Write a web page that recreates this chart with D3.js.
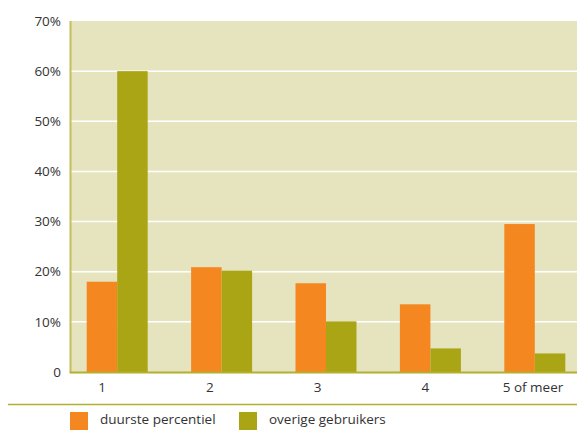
<!DOCTYPE html>
<html>
<head>
<meta charset="utf-8">
<script src="https://cdn.jsdelivr.net/npm/d3@7"></script>
<style>
  html, body { margin: 0; padding: 0; background: #fff; }
  svg { display: block; }
  text { font-family: "Open Sans", "Noto Sans", sans-serif; fill: #333; }
</style>
</head>
<body>
<svg id="chart" width="577" height="430"></svg>
<script>
const categories = ["1", "2", "3", "4", "5 of meer"];
const seriesNames = ["duurste percentiel", "overige gebruikers"];
const duurstePercentiel = [18.0, 20.9, 17.7, 13.5, 29.5];
const overigeGebruikers = [60.0, 20.2, 10.1, 4.7, 3.7];
const yTicks = [0, 10, 20, 30, 40, 50, 60, 70];
const yTickLabels = ["0", "10%", "20%", "30%", "40%", "50%", "60%", "70%"];
const colors = ["#f58720", "#aaa514"];

const svg = d3.select("#chart");
const W = 577;
const plotLeft = 70, plotRight = 577, plotTop = 21, plotBottom = 372;

const y = d3.scaleLinear().domain([0, 70]).range([plotBottom, plotTop]);
const x0 = d3.scaleBand().domain(categories).range([65, 587]).paddingInner(0.4157).paddingOuter(0.2078);
const x1 = d3.scaleBand().domain(seriesNames).range([0, x0.bandwidth()]);
const xLabel = d3.scalePoint().domain(categories).range([102, 533]);
const color = d3.scaleOrdinal().domain(seriesNames).range(colors);

// background
svg.append("rect")
  .attr("x", plotLeft).attr("y", y(70))
  .attr("width", plotRight - plotLeft).attr("height", y(0) - y(70))
  .attr("fill", "#e6e3bf");

// gridlines
svg.append("g").selectAll("line")
  .data(yTicks.filter(d => d > 0 && d < 70))
  .join("line")
  .attr("x1", plotLeft).attr("x2", plotRight)
  .attr("y1", d => y(d)).attr("y2", d => y(d))
  .attr("stroke", "#ffffff").attr("stroke-width", 1.5);

// bars
const data = categories.map((c, i) => ({ cat: c, values: [duurstePercentiel[i], overigeGebruikers[i]] }));
svg.append("g").selectAll("g")
  .data(data)
  .join("g")
  .attr("transform", d => `translate(${x0(d.cat)},0)`)
  .selectAll("rect")
  .data(d => d.values.map((v, j) => ({ s: seriesNames[j], v })))
  .join("rect")
  .attr("x", d => x1(d.s))
  .attr("width", x1.bandwidth())
  .attr("y", d => y(d.v))
  .attr("height", d => y(0) - y(d.v))
  .attr("fill", d => color(d.s));

// left axis line
svg.append("line")
  .attr("x1", plotLeft + 0.5).attr("x2", plotLeft + 0.5)
  .attr("y1", y(70)).attr("y2", y(0))
  .attr("stroke", "#c3c05a").attr("stroke-width", 2);

// bottom axis line
svg.append("line")
  .attr("x1", plotLeft - 0.5).attr("x2", plotRight)
  .attr("y1", y(0) + 0.5).attr("y2", y(0) + 0.5)
  .attr("stroke", "#b3b030").attr("stroke-width", 2);

// y tick labels
svg.append("g").selectAll("text")
  .data(yTicks)
  .join("text")
  .attr("x", 61)
  .attr("y", d => y(d))
  .attr("dy", "0.35em")
  .attr("text-anchor", "end")
  .attr("font-size", 13.5)
  .text((d, i) => yTickLabels[i]);

// x tick labels
svg.append("g").selectAll("text")
  .data(categories)
  .join("text")
  .attr("x", d => xLabel(d))
  .attr("y", 392)
  .attr("text-anchor", "middle")
  .attr("font-size", 13.5)
  .text(d => d);

// separator line
svg.append("line")
  .attr("x1", 8).attr("x2", W)
  .attr("y1", 404.5).attr("y2", 404.5)
  .attr("stroke", "#b3b030").attr("stroke-width", 1.5);

// legend
const legendX = [70, 239];
const legend = svg.append("g").selectAll("g")
  .data(seriesNames)
  .join("g")
  .attr("transform", (d, i) => `translate(${legendX[i]},412)`);
legend.append("rect")
  .attr("width", 18).attr("height", 18)
  .attr("fill", d => color(d));
legend.append("text")
  .attr("x", 30).attr("y", 12)
  .attr("font-size", 13.5)
  .text(d => d);
</script>
</body>
</html>
